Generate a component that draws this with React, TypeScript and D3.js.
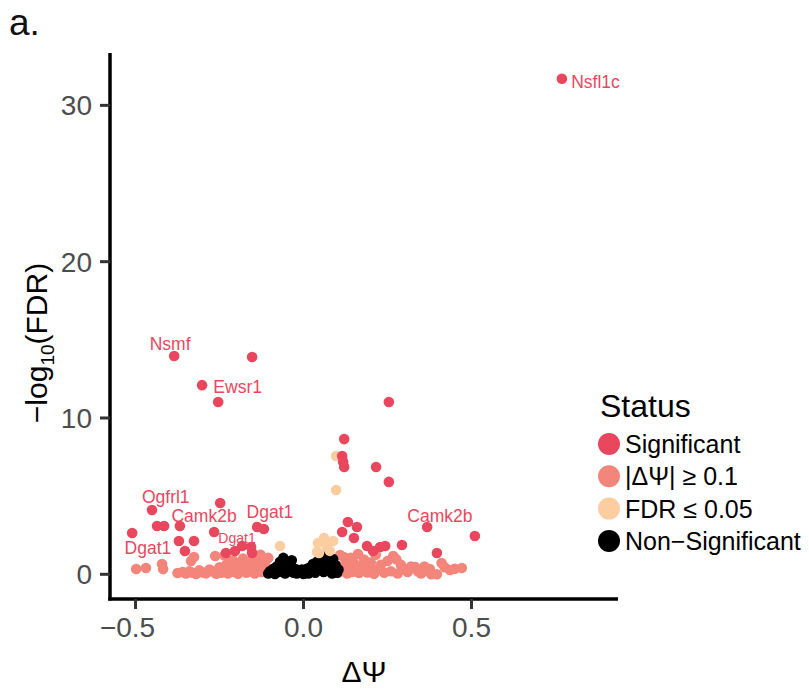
import React from 'react';
import * as d3 from 'd3';

// status groups: [deltaPsi, -log10(FDR)]
const significant: [number, number][] = [
  [0.769, 31.7], [-0.385, 13.97], [-0.153, 13.9], [-0.302, 12.1], [-0.254, 11.02],
  [0.254, 11.02], [0.121, 8.65], [0.115, 7.57], [0.118, 7.19], [0.121, 6.86],
  [0.216, 6.86], [0.254, 5.91], [-0.451, 4.11], [-0.248, 4.56], [-0.436, 3.09],
  [-0.415, 3.09], [-0.368, 3.09], [-0.51, 2.64], [-0.371, 2.13], [-0.326, 2.13],
  [-0.353, 1.49], [-0.138, 3.03], [-0.118, 2.9], [-0.266, 2.71], [-0.231, 1.36],
  [-0.204, 1.49], [-0.183, 1.81], [-0.156, 1.75], [-0.153, 1.36], [0.132, 3.35],
  [0.115, 2.71], [0.159, 3.03], [0.15, 2.32], [0.368, 3.03], [0.51, 2.45],
  [0.189, 1.81], [0.207, 1.49], [0.228, 1.75], [0.243, 1.81], [0.293, 1.87],
  [0.397, 1.36],
];

const foldOnly: [number, number][] = [
  [-0.498, 0.34], [-0.469, 0.4], [-0.421, 0.66], [-0.418, 0.34], [-0.335, 0.85],
  [-0.326, 1.11], [-0.263, 1.17], [-0.375, 0.08], [-0.36, 0.15], [-0.35, 0.05],
  [-0.34, 0.2], [-0.33, 0.1], [-0.32, 0.02], [-0.31, 0.25], [-0.3, 0.12],
  [-0.29, 0.06], [-0.28, 0.3], [-0.27, 0.18], [-0.26, 0.04], [-0.25, 0.45],
  [-0.245, 0.1], [-0.24, 0.22], [-0.23, 0.6], [-0.225, 0.05], [-0.22, 0.35],
  [-0.21, 0.9], [-0.205, 0.15], [-0.2, 0.5], [-0.195, 0.03], [-0.19, 0.7],
  [-0.185, 0.25], [-0.18, 1.0], [-0.175, 0.4], [-0.17, 0.1], [-0.165, 0.8],
  [-0.16, 0.55], [-0.155, 0.2], [-0.15, 1.1], [-0.145, 0.05], [-0.14, 0.65],
  [-0.135, 0.35], [-0.13, 0.9], [-0.125, 0.15], [-0.12, 0.5], [-0.115, 0.75],
  [-0.11, 0.28], [-0.105, 1.05], [-0.102, 0.08], [-0.235, 1.2], [-0.128, 1.25],
  [0.102, 0.1], [0.105, 0.5], [0.109, 1.23], [0.115, 0.2], [0.12, 1.1],
  [0.125, 0.6], [0.13, 0.05], [0.135, 0.35], [0.14, 1.05], [0.145, 0.15],
  [0.15, 0.7], [0.155, 0.4], [0.162, 1.3], [0.165, 0.08], [0.17, 0.55],
  [0.175, 0.25], [0.18, 0.95], [0.19, 0.12], [0.195, 0.45], [0.2, 0.75],
  [0.21, 0.03], [0.215, 1.25], [0.22, 0.3], [0.23, 0.6], [0.24, 0.1],
  [0.25, 0.85], [0.26, 0.2], [0.267, 1.17], [0.276, 0.96], [0.28, 0.05],
  [0.29, 0.6], [0.3, 0.3], [0.31, 0.15], [0.32, 0.5], [0.332, 0.47],
  [0.34, 0.2], [0.35, 0.05], [0.36, 0.5], [0.376, 0.34], [0.38, 0.0],
  [0.397, 0.0], [0.411, 0.72], [0.42, 0.45], [0.436, 0.28], [0.45, 0.35],
  [0.471, 0.4],
];

const fdrOnly: [number, number][] = [
  [0.097, 7.57], [0.097, 5.39], [0.061, 2.32], [0.088, 2.13], [0.043, 2.0],
  [0.04, 1.43], [0.07, 1.75], [-0.07, 1.81], [0.046, 1.36], [0.078, 1.5],
];

const nonSig: [number, number][] = [
  [-0.105, 0.05], [-0.1, 0.2], [-0.095, 0.1], [-0.09, 0.35], [-0.085, 0.02],
  [-0.08, 0.5], [-0.075, 0.15], [-0.07, 0.8], [-0.065, 0.3], [-0.06, 1.05],
  [-0.058, 0.6], [-0.055, 0.05], [-0.05, 0.4], [-0.045, 0.2], [-0.04, 0.7],
  [-0.035, 0.9], [-0.03, 0.1], [-0.025, 0.35], [-0.02, 0.05], [-0.015, 0.25],
  [-0.01, 0.1], [-0.005, 0.3], [0.0, 0.02], [0.005, 0.15], [0.01, 0.35],
  [0.015, 0.05], [0.02, 0.45], [0.025, 0.2], [0.028, 0.66], [0.035, 0.1],
  [0.04, 0.8], [0.045, 0.3], [0.05, 1.05], [0.055, 0.55], [0.06, 0.15],
  [0.065, 0.9], [0.07, 1.2], [0.075, 0.4], [0.08, 0.7], [0.085, 0.05],
  [0.088, 0.98], [0.092, 0.25], [0.095, 0.6], [0.1, 0.1], [0.104, 0.3],
];

// gene labels: [name, x, y (baseline), small]
const geneLabels: [string, number, number, boolean][] = [
  ['Nsfl1c', 0.869, 31.13, false],
  ['Nsmf', -0.397, 14.35, false],
  ['Ewsr1', -0.196, 11.62, false],
  ['Ogfrl1', -0.41, 4.56, false],
  ['Camk2b', -0.296, 3.35, false],
  ['Dgat1', -0.463, 1.3, false],
  ['Dgat1', -0.1, 3.6, false],
  ['Dgat1', -0.198, 2.02, true],
  ['Camk2b', 0.406, 3.37, false],
];

const statusNames = ['Significant', '|ΔΨ| ≥ 0.1', 'FDR ≤ 0.05', 'Non\u2212Significant'];
const statusColors = ['#E9475E', '#F4857B', '#FCCDA1', '#000000'];
const xTicks = [-0.5, 0, 0.5];
const yTicks = [0, 10, 20, 30];

const FONT = '"Liberation Sans", Arial, Helvetica, sans-serif';

export default function App() {
  const left = 110, right = 618, top = 53, bottom = 599;
  const x = d3.scaleLinear().domain([-0.576, 0.936]).range([left, right]);
  const y = d3.scaleLinear().domain([-1.58, 33.35]).range([bottom, top]);
  const fmt = (v: number) => (v < 0 ? '\u2212' : '') + d3.format('.1f')(Math.abs(v));

  const groups: [[number, number][], string][] = [
    [foldOnly, statusColors[1]],
    [nonSig, statusColors[3]],
    [fdrOnly, statusColors[2]],
    [significant, statusColors[0]],
  ];

  return (
    <svg width={809} height={690} style={{ position: 'absolute', left: 0, top: 0 }} fontFamily={FONT}>
      <rect width={809} height={690} fill="#fff" />
      <text x={9} y={35} fontSize={37} fill="#111">a.</text>

      {/* points */}
      {groups.map(([pts, col], gi) => (
        <g key={gi} fill={col}>
          {pts.map((d, i) => (
            <circle key={i} cx={x(d[0])} cy={y(d[1])} r={5.3} />
          ))}
        </g>
      ))}

      {/* gene labels */}
      {geneLabels.map((l, i) => (
        <text key={i} x={x(l[1])} y={y(l[2])} textAnchor="middle" fontSize={l[3] ? 14 : 17.5}
          fill={statusColors[0]}>{l[0]}</text>
      ))}

      {/* axes */}
      <line x1={left} x2={left} y1={top} y2={bottom + 1.5} stroke="#000" strokeWidth={3.5} />
      <line x1={left - 1.75} x2={right} y1={bottom} y2={bottom} stroke="#000" strokeWidth={3.5} />
      {yTicks.map(t => (
        <g key={t}>
          <line x1={left - 10} x2={left} y1={y(t)} y2={y(t)} stroke="#333" strokeWidth={3} />
          <text x={92} y={y(t)} dy="0.36em" textAnchor="end" fontSize={28} fill="#4D4D4D">{t}</text>
        </g>
      ))}
      {xTicks.map(t => (
        <g key={t}>
          <line x1={x(t)} x2={x(t)} y1={bottom} y2={bottom + 10} stroke="#333" strokeWidth={3} />
          <text x={x(t) - (t < 0 ? 8 : 0)} y={637} textAnchor="middle" fontSize={28} fill="#4D4D4D">{fmt(t)}</text>
        </g>
      ))}
      <text x={(left + right) / 2} y={682} textAnchor="middle" fontSize={30} fill="#000">ΔΨ</text>
      <g transform="translate(47,343) rotate(-90)">
        <text textAnchor="middle" fontSize={30} fill="#000">
          {'\u2212log'}
          <tspan fontSize={19} dy={7}>10</tspan>
          <tspan dy={-7}>(FDR)</tspan>
        </text>
      </g>

      {/* legend */}
      <text x={600} y={417} fontSize={32} fill="#000">Status</text>
      {statusNames.map((s, i) => (
        <g key={s} transform={`translate(0,${444 + i * 32.3})`}>
          <circle cx={609} cy={0} r={11} fill={statusColors[i]} />
          <text x={625} y={0} dy="0.36em" fontSize={25} fill="#000">{s}</text>
        </g>
      ))}
    </svg>
  );
}
